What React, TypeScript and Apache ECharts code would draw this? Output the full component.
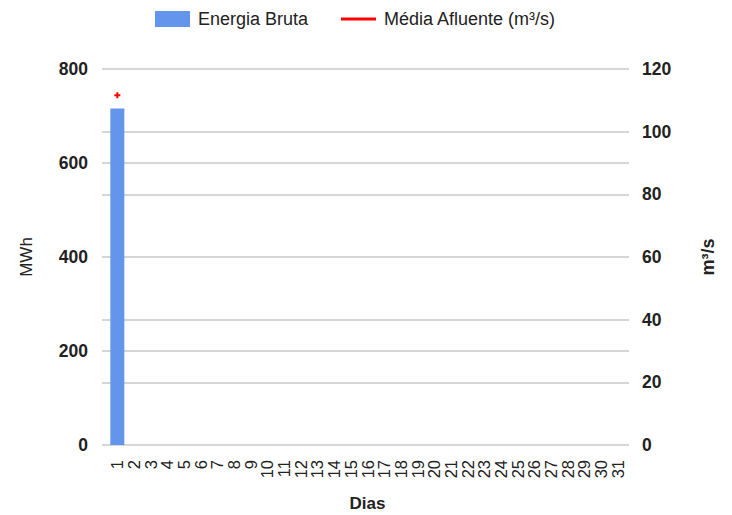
import React, { useEffect, useRef } from "react";
import * as echarts from "echarts";

const days = ["1","2","3","4","5","6","7","8","9","10","11","12","13","14","15","16","17","18","19","20","21","22","23","24","25","26","27","28","29","30","31"];
const energiaBruta = [716, null, null, null, null, null, null, null, null, null, null, null, null, null, null, null, null, null, null, null, null, null, null, null, null, null, null, null, null, null, null];
const mediaAfluente = [111.6, null, null, null, null, null, null, null, null, null, null, null, null, null, null, null, null, null, null, null, null, null, null, null, null, null, null, null, null, null, null];
const leftTicks = { min: 0, max: 800, interval: 200 };
const rightTicks = { min: 0, max: 120, interval: 20 };

const FONT = "'Liberation Sans', Arial, sans-serif";
const TXT = "#222";

export default function App() {
  const ref = useRef<HTMLDivElement>(null);
  useEffect(() => {
    document.body.style.margin = "0";
    if (!ref.current) return;
    const chart = echarts.init(ref.current, null, { renderer: "svg" });
    const split = { show: true, lineStyle: { color: "#d6d6d6", width: 2 } };
    chart.setOption({
      animation: false,
      textStyle: { fontFamily: FONT },
      legend: [
        {
          data: ["Energia Bruta"],
          left: 155,
          top: 10,
          padding: 0,
          itemWidth: 35,
          itemHeight: 16,
          icon: "rect",
          textStyle: { fontSize: 18, color: TXT, fontFamily: FONT, padding: [0, 0, 0, 3] },
        },
        {
          data: ["Média Afluente (m³/s)"],
          left: 341,
          top: 10,
          padding: 0,
          itemWidth: 35,
          itemHeight: 3,
          icon: "rect",
          textStyle: { fontSize: 18, color: TXT, fontFamily: FONT, padding: [0, 0, 0, 3] },
        },
      ],
      grid: [
        { left: 102, right: 103, top: 69, bottom: 70, outerBoundsMode: "none", containLabel: false },
        { left: 109, right: 106, top: 69, bottom: 70, outerBoundsMode: "none", containLabel: false },
      ],
      xAxis: [
        { type: "category", gridIndex: 0, data: days, show: false },
        {
          type: "category",
          gridIndex: 1,
          data: days,
          axisLine: { show: false },
          axisTick: { show: false },
          axisLabel: { rotate: 90, interval: 0, margin: 15, fontSize: 16.5, color: TXT, fontFamily: FONT },
          name: "Dias",
          nameLocation: "middle",
          nameGap: 50,
          nameTextStyle: { fontSize: 17, fontWeight: "bold", color: TXT, fontFamily: FONT },
        },
      ],
      yAxis: [
        {
          type: "value",
          gridIndex: 0,
          position: "left",
          ...leftTicks,
          axisLine: { show: false },
          axisTick: { show: false },
          splitLine: split,
          axisLabel: { margin: 14, fontSize: 17.5, fontWeight: "bold", color: TXT, fontFamily: FONT },
          name: "MWh",
          nameLocation: "middle",
          nameGap: 67,
          nameRotate: 90,
          nameTextStyle: { fontSize: 17, color: TXT, fontFamily: FONT },
        },
        {
          type: "value",
          gridIndex: 0,
          position: "right",
          ...rightTicks,
          axisLine: { show: false },
          axisTick: { show: false },
          splitLine: split,
          axisLabel: { margin: 13, fontSize: 17.5, fontWeight: "bold", color: TXT, fontFamily: FONT },
          name: "m³/s",
          nameLocation: "middle",
          nameGap: 70,
          nameRotate: 90,
          nameTextStyle: { fontSize: 18, fontWeight: "bold", color: TXT, fontFamily: FONT },
        },
        { type: "value", gridIndex: 1, position: "left", ...leftTicks, show: false, splitLine: { show: false } },
        { type: "value", gridIndex: 1, position: "right", ...rightTicks, show: false, splitLine: { show: false } },
      ],
      series: [
        {
          name: "Energia Bruta",
          type: "bar",
          xAxisIndex: 1,
          yAxisIndex: 2,
          data: energiaBruta,
          barWidth: 14,
          itemStyle: { color: "#6495ED" },
        },
        {
          name: "Média Afluente (m³/s)",
          type: "line",
          xAxisIndex: 1,
          yAxisIndex: 3,
          data: mediaAfluente,
          showSymbol: true,
          symbol: "path://M2,0h2v2h2v2h-2v2h-2v-2h-2v-2h2z",
          symbolSize: 6,
          itemStyle: { color: "#ff0000" },
          lineStyle: { color: "#ff0000", width: 2 },
        },
      ],
    });
    return () => chart.dispose();
  }, []);
  return <div ref={ref} style={{ width: 732, height: 515 }} />;
}
